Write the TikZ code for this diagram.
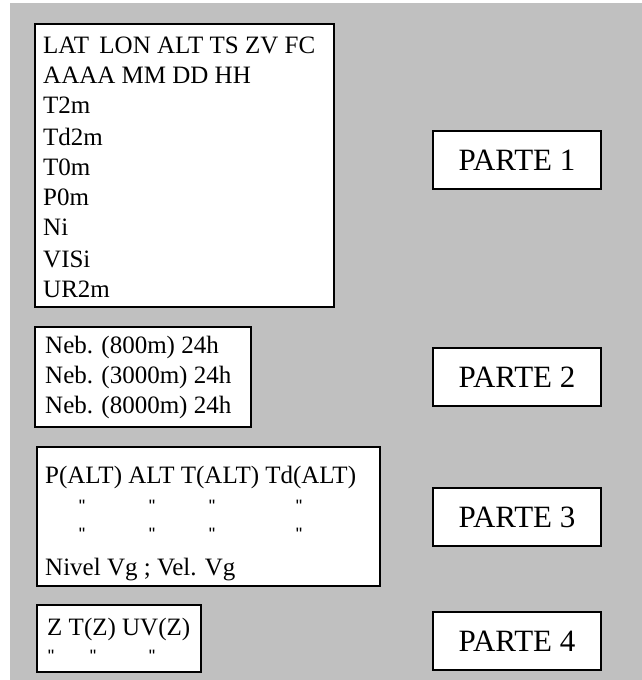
\documentclass[tikz,border=0pt]{standalone}
\usepackage{fontspec}
\setmainfont{Liberation Serif}
\newfontfamily\qfont{Liberation Sans}
\newcommand{\dq}{\symbol{34}}
\begin{document}
\begin{tikzpicture}[x=1pt,y=-1pt,
  frame/.style={draw=black,line width=1.6pt,fill=white,inner sep=0pt,rectangle},
  parte/.style={frame,minimum width=168pt,minimum height=58pt,font=\fontsize{31}{36}\selectfont},
  txt/.style={anchor=base west,inner sep=0pt,font=\fontsize{25}{30}\selectfont},
  qt/.style={anchor=base,inner sep=0pt,font=\qfont\fontsize{18}{18}\selectfont}]
\useasboundingbox (0,0) rectangle (642,680);
\fill[white] (0,0) rectangle (642,680);
\fill[fill={rgb,255:red,192;green,192;blue,192}] (10,3) rectangle (642,680);
% boxes
\node[frame,minimum width=299pt,minimum height=283pt] (b1) at (184.5,165.5) {};
\node[frame,minimum width=216pt,minimum height=100pt] (b2) at (143,377) {};
\node[frame,minimum width=343pt,minimum height=139pt] (b3) at (208.5,516.5) {};
\node[frame,minimum width=164pt,minimum height=67pt] (b4) at (119,638.5) {};
% parte labels
\node[parte] (p1) at (517,160) {PARTE 1};
\node[parte] (p2) at (517,377) {PARTE 2};
\node[parte] (p3) at (517,517) {PARTE 3};
\node[parte] (p4) at (517,641) {PARTE 4};
% box 1 text
\node[txt] (t11) at (43,53) {LAT\, LON ALT TS ZV FC};
\node[txt] (t12) at (43,83) {AAAA MM DD HH};
\node[txt] (t13) at (43,113) {T2m};
\node[txt] (t14) at (43,145) {Td2m};
\node[txt] (t15) at (43,175) {T0m};
\node[txt] (t16) at (43,205) {P0m};
\node[txt] (t17) at (43,235) {Ni};
\node[txt] (t18) at (43,267) {VISi};
\node[txt] (t19) at (43,297) {UR2m};
% box 2 text
\node[txt] (t21) at (45,353) {Neb. (800m) 24h};
\node[txt] (t22) at (45,383) {Neb. (3000m) 24h};
\node[txt] (t23) at (45,413) {Neb. (8000m) 24h};
% box 3 text
\node[txt] (t31) at (45,483) {P(ALT) ALT T(ALT) Td(ALT)};
\node[qt] (q1a) at (82,512) {\dq};
\node[qt] (q1b) at (152,512) {\dq};
\node[qt] (q1c) at (212,512) {\dq};
\node[qt] (q1d) at (299,512) {\dq};
\node[qt] (q2a) at (82,540) {\dq};
\node[qt] (q2b) at (152,540) {\dq};
\node[qt] (q2c) at (212,540) {\dq};
\node[qt] (q2d) at (299,540) {\dq};
\node[txt] (t32) at (45,575) {Nivel Vg ; Vel. Vg};
% box 4 text
\node[txt] (t41) at (47,635) {Z T(Z) UV(Z)};
\node[qt] (q4a) at (51,662) {\dq};
\node[qt] (q4b) at (93,662) {\dq};
\node[qt] (q4c) at (152,662) {\dq};
\end{tikzpicture}
\end{document}
